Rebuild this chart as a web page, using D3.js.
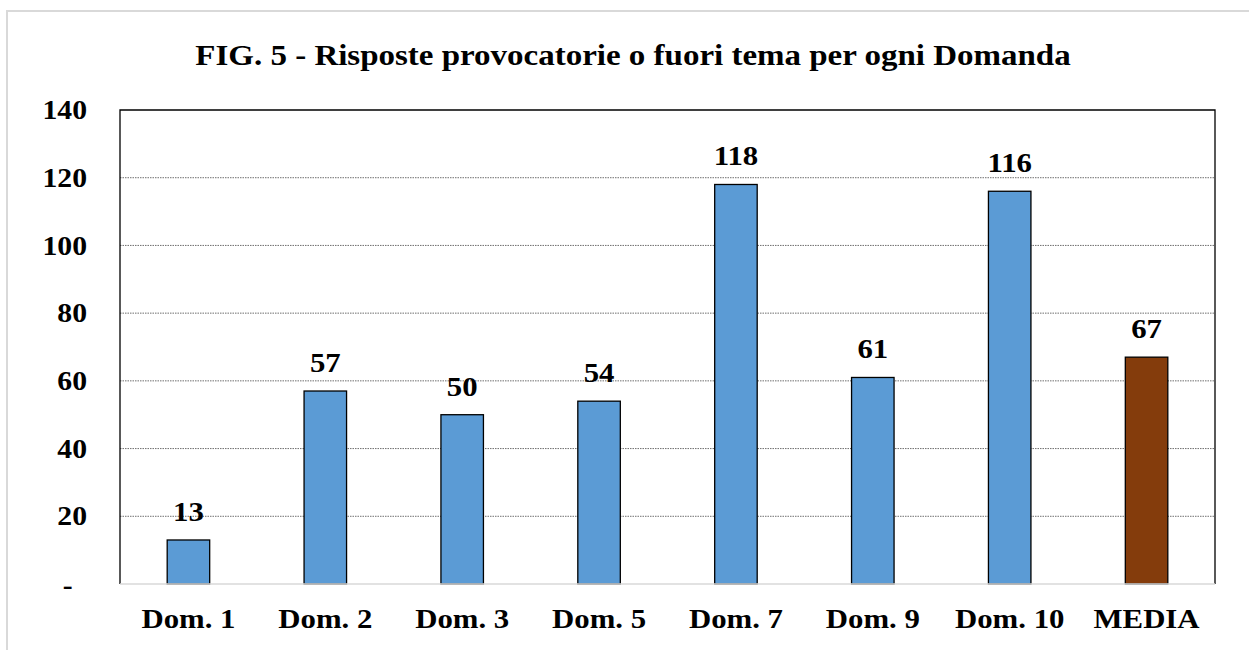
<!DOCTYPE html>
<html>
<head>
<meta charset="utf-8">
<script src="https://cdn.jsdelivr.net/npm/d3@7"></script>
<style>
	body { margin: 0; background: #fff; }
	svg { display: block; font-family: "Liberation Serif", "Times New Roman", serif; font-weight: bold; }
</style>
</head>
<body>
<svg id="chart" width="1249" height="650"></svg>
<script>

// chart data
const categories = ["Dom. 1", "Dom. 2", "Dom. 3", "Dom. 5", "Dom. 7", "Dom. 9", "Dom. 10", "MEDIA"];
const values = [13, 57, 50, 54, 118, 61, 116, 67];
const y_ticks = [0, 20, 40, 60, 80, 100, 120, 140];
const title = "FIG. 5 - Risposte provocatorie o fuori tema per ogni Domanda";

const svg = d3.select('#chart');

// plot area
const plot_left = 120, plot_right = 1215, plot_top = 110, plot_bottom = 584;
// the text in the original is a little wider than the font
const stretch = 1.1;

// outer chart frame (right and bottom fall outside the picture)
svg.append('rect')
	.attr('x', 7).attr('y', 11)
	.attr('width', 1260).attr('height', 650)
	.style('fill', 'none')
	.style('stroke', '#d9d9d9')
	.style('stroke-width', 2);

const x = d3.scaleBand()
	.domain(categories)
	.range([plot_left, plot_right])
	.padding(0);

const y = d3.scaleLinear()
	.domain([0, 140])
	.range([plot_bottom, plot_top]);

// gridlines
svg.append('g')
	.selectAll('line')
	.data(y_ticks.filter(d => d > 0 && d < 140))
	.enter()
	.append('line')
	.attr('x1', plot_left).attr('x2', plot_right)
	.attr('y1', d => y(d)).attr('y2', d => y(d))
	.style('stroke', '#6f6f6f')
	.style('stroke-width', 1)
	.style('stroke-dasharray', '1.5,1');

// y axis labels
const y_axis = svg.append('g')
	.attr('transform', `translate(${plot_left},0)`)
	.call(d3.axisLeft(y).tickValues(y_ticks).tickSize(0).tickPadding(33 / stretch)
		.tickFormat(d => d === 0 ? "-" : d));
y_axis.select('.domain').remove();
y_axis.selectAll('text')
	.attr('transform', `scale(${stretch},1)`)
	.style('font-family', '"Liberation Serif", serif')
	.style('font-weight', 'bold')
	.style('font-size', '27px')
	.style('fill', '#000');
// zero shown as accounting dash
y_axis.selectAll('.tick').filter(d => d === 0).select('text')
	.attr('dx', -13).attr('dy', '0.35em');

// bars
const bar_w = 42.5;
svg.append('g')
	.selectAll('rect')
	.data(values)
	.enter()
	.append('rect')
	.attr('x', (d, i) => x(categories[i]) + x.bandwidth() / 2 - bar_w / 2)
	.attr('y', d => y(d))
	.attr('width', bar_w)
	.attr('height', d => y(0) - y(d))
	.style('fill', (d, i) => categories[i] === "MEDIA" ? '#843c0c' : '#5b9bd5')
	.style('stroke', '#000')
	.style('stroke-width', 1.3);

// value labels
svg.append('g')
	.selectAll('text')
	.data(values)
	.enter()
	.append('text')
	.attr('transform', (d, i) => `translate(${x(categories[i]) + x.bandwidth() / 2},${y(d) - 19}) scale(${stretch},1)`)
	.attr('text-anchor', 'middle')
	.style('font-size', '28px')
	.text(d => d);

// plot border: black left/top/right, light gray baseline
svg.append('path')
	.attr('d', `M${plot_left},${plot_bottom}V${plot_top}H${plot_right}V${plot_bottom}`)
	.style('fill', 'none')
	.style('stroke', '#000')
	.style('stroke-width', 1.3);
svg.append('line')
	.attr('x1', plot_left).attr('x2', plot_right)
	.attr('y1', plot_bottom).attr('y2', plot_bottom)
	.style('stroke', '#d9d9d9')
	.style('stroke-width', 1.5);

// x labels
svg.append('g')
	.selectAll('text')
	.data(categories)
	.enter()
	.append('text')
	.attr('transform', d => `translate(${x(d) + x.bandwidth() / 2},628) scale(${stretch},1)`)
	.attr('text-anchor', 'middle')
	.style('font-size', '28px')
	.text(d => d);

// title
svg.append('text')
	.attr('transform', `translate(633,65) scale(${stretch},1)`)
	.attr('text-anchor', 'middle')
	.style('font-size', '30px')
	.text(title);

</script>
</body>
</html>
